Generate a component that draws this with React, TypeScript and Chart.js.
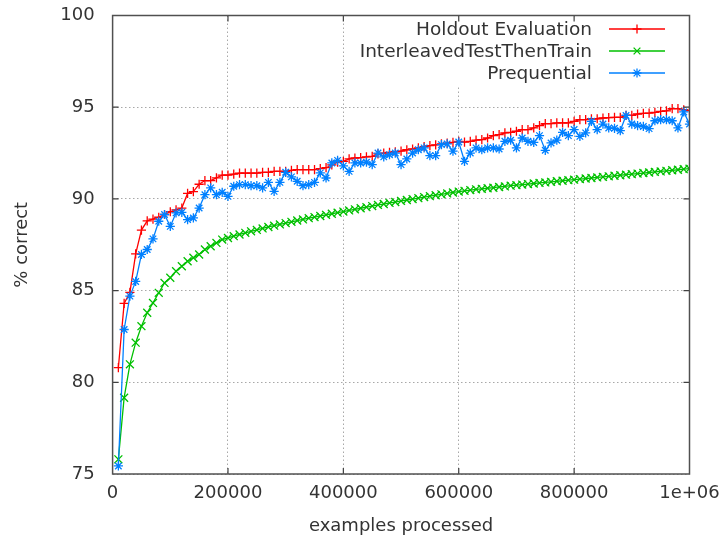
import { useEffect, useRef } from 'react';
import { Chart, registerables } from 'chart.js';

Chart.register(...registerables);

// examples processed (thousands)
const EXAMPLES_K = [
  10, 20, 30, 40, 50, 60, 70, 80, 90, 100,
  110, 120, 130, 140, 150, 160, 170, 180, 190, 200,
  210, 220, 230, 240, 250, 260, 270, 280, 290, 300,
  310, 320, 330, 340, 350, 360, 370, 380, 390, 400,
  410, 420, 430, 440, 450, 460, 470, 480, 490, 500,
  510, 520, 530, 540, 550, 560, 570, 580, 590, 600,
  610, 620, 630, 640, 650, 660, 670, 680, 690, 700,
  710, 720, 730, 740, 750, 760, 770, 780, 790, 800,
  810, 820, 830, 840, 850, 860, 870, 880, 890, 900,
  910, 920, 930, 940, 950, 960, 970, 980, 990, 1000,
];

const HOLDOUT = [
  80.8, 84.3, 84.9, 87.0, 88.3, 88.8, 88.9, 89.0, 89.15, 89.3,
  89.4, 89.5, 90.3, 90.4, 90.8, 91.0, 91.0, 91.15, 91.3, 91.3,
  91.35, 91.4, 91.4, 91.4, 91.4, 91.45, 91.45, 91.5, 91.5, 91.5,
  91.55, 91.6, 91.6, 91.6, 91.6, 91.65, 91.7, 91.85, 92.0, 92.05,
  92.18, 92.23, 92.25, 92.29, 92.32, 92.46, 92.5, 92.54, 92.57, 92.6,
  92.68, 92.72, 92.78, 92.85, 92.9, 92.95, 93.0, 93.04, 93.08, 93.14,
  93.1, 93.14, 93.2, 93.23, 93.32, 93.45, 93.5, 93.6, 93.63, 93.69,
  93.78, 93.78, 93.87, 94.0, 94.1, 94.1, 94.14, 94.14, 94.14, 94.23,
  94.32, 94.32, 94.37, 94.37, 94.41, 94.43, 94.45, 94.45, 94.55, 94.55,
  94.63, 94.66, 94.68, 94.72, 94.77, 94.8, 94.92, 94.92, 94.86, 94.81,
];

const INTERLEAVED = [
  75.8, 79.16, 80.98, 82.16, 83.06, 83.79, 84.33, 84.88, 85.42, 85.7,
  86.06, 86.33, 86.6, 86.79, 86.97, 87.24, 87.42, 87.6, 87.78, 87.87,
  87.97, 88.06, 88.15, 88.23, 88.31, 88.39, 88.47, 88.54, 88.61, 88.68,
  88.75, 88.82, 88.88, 88.95, 89.01, 89.07, 89.13, 89.19, 89.25, 89.31,
  89.37, 89.43, 89.49, 89.55, 89.61, 89.67, 89.72, 89.78, 89.83, 89.89,
  89.94, 89.99, 90.04, 90.1, 90.15, 90.2, 90.25, 90.3, 90.35, 90.4,
  90.44, 90.48, 90.52, 90.55, 90.58, 90.61, 90.65, 90.68, 90.72, 90.75,
  90.78, 90.81, 90.84, 90.87, 90.9, 90.93, 90.96, 90.99, 91.02, 91.05,
  91.08, 91.11, 91.14, 91.17, 91.2, 91.23, 91.26, 91.29, 91.32, 91.35,
  91.38, 91.41, 91.44, 91.47, 91.5, 91.53, 91.56, 91.59, 91.62, 91.65,
];

const PREQUENTIAL = [
  75.44, 82.88, 84.7, 85.5, 86.97, 87.24, 87.82, 88.78, 89.15, 88.5,
  89.24, 89.27, 88.87, 88.96, 89.5, 90.23, 90.6, 90.23, 90.36, 90.14,
  90.69, 90.78, 90.78, 90.72, 90.72, 90.6, 90.9, 90.41, 90.9, 91.45,
  91.2, 90.96, 90.72, 90.78, 90.9, 91.42, 91.14, 91.96, 92.1, 91.8,
  91.5, 91.96, 91.96, 92.0, 91.87, 92.5, 92.29, 92.41, 92.5, 91.87,
  92.18, 92.5, 92.68, 92.78, 92.36, 92.36, 92.96, 93.0, 92.6, 93.1,
  92.05, 92.5, 92.78, 92.68, 92.78, 92.78, 92.72, 93.14, 93.2, 92.78,
  93.32, 93.14, 93.08, 93.45, 92.65, 93.05, 93.2, 93.63, 93.45, 93.78,
  93.41, 93.6, 94.23, 93.78, 94.08, 93.87, 93.85, 93.72, 94.55, 94.08,
  94.0, 93.95, 93.83, 94.26, 94.32, 94.32, 94.26, 93.87, 94.74, 94.08,
];

const SERIES_LABELS = ['Holdout Evaluation', 'InterleavedTestThenTrain', 'Prequential'];
const SERIES_COLORS = ['#ff0000', '#00c000', '#0080ff'];
const SERIES_MARKERS = ['cross', 'crossRot', 'star'];

const X_TICKS = [0, 200000, 400000, 600000, 800000, 1000000];
const X_TICK_LABELS = ['0', '200000', '400000', '600000', '800000', '1e+06'];
const Y_TICKS = [75, 80, 85, 90, 95, 100];

const X_TITLE = 'examples processed';
const Y_TITLE = '% correct';

const FONT = "'DejaVu Sans', sans-serif";
const TEXT_COLOR = '#333333';

function drawMarker(ctx: CanvasRenderingContext2D, kind: string, x: number, y: number, r: number) {
  ctx.beginPath();
  if (kind === 'cross' || kind === 'star') {
    ctx.moveTo(x - r, y); ctx.lineTo(x + r, y);
    ctx.moveTo(x, y - r); ctx.lineTo(x, y + r);
  }
  if (kind === 'crossRot' || kind === 'star') {
    const d = kind === 'star' ? r * 0.75 : r * 0.75;
    ctx.moveTo(x - d, y - d); ctx.lineTo(x + d, y + d);
    ctx.moveTo(x - d, y + d); ctx.lineTo(x + d, y - d);
  }
  ctx.stroke();
}

const framePlugin = {
  id: 'gnuplotFrame',
  beforeDatasetsDraw(chart: any) {
    const { ctx, chartArea } = chart;
    // key box area clears the grid like gnuplot's opaque key
    ctx.save();
    ctx.fillStyle = '#ffffff';
    ctx.fillRect(350, chartArea.top + 1, chartArea.right - 351, 85 - chartArea.top - 1);
    ctx.restore();
  },
  afterDatasetsDraw(chart: any) {
    const { ctx, chartArea, scales } = chart;
    const { left, right, top, bottom } = chartArea;
    ctx.save();
    // inward ticks
    ctx.strokeStyle = '#404040';
    ctx.lineWidth = 1.2;
    const tl = 6;
    ctx.beginPath();
    X_TICKS.forEach((v) => {
      const px = scales.x.getPixelForValue(v);
      if (px <= left + 1 || px >= right - 1) return;
      ctx.moveTo(px, bottom); ctx.lineTo(px, bottom - tl);
      ctx.moveTo(px, top); ctx.lineTo(px, top + tl);
    });
    Y_TICKS.forEach((v) => {
      const py = scales.y.getPixelForValue(v);
      if (py <= top + 1 || py >= bottom - 1) return;
      ctx.moveTo(left, py); ctx.lineTo(left + tl, py);
      ctx.moveTo(right, py); ctx.lineTo(right - tl, py);
    });
    ctx.stroke();
    // border
    ctx.strokeStyle = '#505050';
    ctx.lineWidth = 1.5;
    ctx.strokeRect(left, top, right - left, bottom - top);

    // key
    ctx.font = `18.5px ${FONT}`;
    ctx.textAlign = 'right';
    ctx.textBaseline = 'middle';
    chart.data.datasets.forEach((ds: any, i: number) => {
      const y = top + 13.5 + i * 22;
      ctx.fillStyle = TEXT_COLOR;
      ctx.fillText(ds.label, 592, y + 1);
      ctx.strokeStyle = ds.borderColor;
      ctx.lineWidth = 1.4;
      ctx.beginPath();
      ctx.moveTo(609, y); ctx.lineTo(665, y);
      ctx.stroke();
      ctx.lineWidth = 1.3;
      drawMarker(ctx, SERIES_MARKERS[i], 637, y, 4.5);
    });
    ctx.restore();
  },
};

export default function App() {
  const ref = useRef<HTMLCanvasElement | null>(null);

  useEffect(() => {
    if (!ref.current) return;
    const seriesValues = [HOLDOUT, INTERLEAVED, PREQUENTIAL];
    const radii = [4.6, 5.6, 4.6];
    const chart = new Chart(ref.current, {
      type: 'line',
      data: {
        datasets: seriesValues.map((vals, i) => ({
          label: SERIES_LABELS[i],
          data: vals.map((v, j) => ({ x: EXAMPLES_K[j] * 1000, y: v })),
          borderColor: SERIES_COLORS[i],
          backgroundColor: SERIES_COLORS[i],
          pointBorderColor: SERIES_COLORS[i],
          pointBackgroundColor: SERIES_COLORS[i],
          pointStyle: SERIES_MARKERS[i] as any,
          pointRadius: radii[i],
          pointBorderWidth: 1.3,
          borderWidth: 1.3,
          tension: 0,
          fill: false,
          order: 3 - i,
        })),
      },
      options: {
        responsive: false,
        animation: false,
        events: [],
        layout: { padding: { left: 0, top: 15.5, right: 30.5, bottom: 0 } },
        plugins: {
          legend: { display: false },
          tooltip: { enabled: false },
          title: { display: false },
        },
        scales: {
          x: {
            type: 'linear',
            min: 0,
            max: 1000000,
            afterBuildTicks: (s: any) => {
              s.ticks = X_TICKS.map((v) => ({ value: v }));
            },
            afterFit: (s: any) => {
              s.height = 539 - 474;
              s.paddingLeft = 0;
              s.paddingRight = 0;
            },
            ticks: {
              autoSkip: false,
              maxRotation: 0,
              padding: 9,
              color: TEXT_COLOR,
              font: { family: FONT, size: 18 },
              callback: (v: any) => {
                const k = X_TICKS.indexOf(Number(v));
                return k >= 0 ? X_TICK_LABELS[k] : '';
              },
            },
            grid: { color: '#a8a8a8', lineWidth: 1, drawTicks: false },
            border: { display: false, dash: [1.5, 2.5] },
            title: {
              display: true,
              text: X_TITLE,
              color: TEXT_COLOR,
              font: { family: FONT, size: 18 },
              padding: { top: 0, bottom: 2 },
            },
          },
          y: {
            type: 'linear',
            min: 75,
            max: 100,
            afterBuildTicks: (s: any) => {
              s.ticks = Y_TICKS.map((v) => ({ value: v }));
            },
            afterFit: (s: any) => {
              s.width = 112.6;
              s.paddingTop = 0;
              s.paddingBottom = 0;
            },
            ticks: {
              padding: 18,
              color: TEXT_COLOR,
              font: { family: FONT, size: 18 },
            },
            grid: { color: '#a8a8a8', lineWidth: 1, drawTicks: false },
            border: { display: false, dash: [1.5, 2.5] },
            title: {
              display: true,
              text: Y_TITLE,
              color: TEXT_COLOR,
              font: { family: FONT, size: 18 },
              padding: { top: 12, bottom: 0 },
            },
          },
        },
      },
      plugins: [framePlugin],
    });
    return () => chart.destroy();
  }, []);

  return (
    <div style={{ position: 'fixed', left: 0, top: 0, width: 720, height: 539, background: '#fff' }}>
      <canvas ref={ref} width={720} height={539} style={{ display: 'block', width: 720, height: 539 }} />
    </div>
  );
}
